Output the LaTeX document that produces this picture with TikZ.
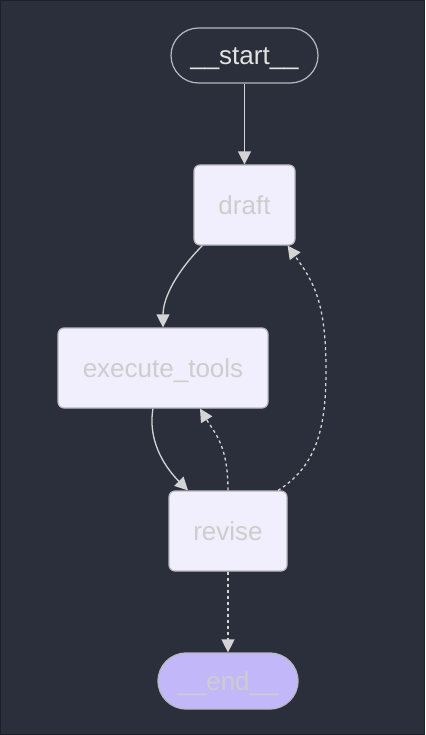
\documentclass[tikz,border=0pt]{standalone}
\usepackage{fontspec}
\setmainfont{Liberation Sans}
\usetikzlibrary{arrows.meta,shapes.misc}
\definecolor{bg}{HTML}{2A2F3B}
\definecolor{bgedge}{HTML}{1C2029}
\definecolor{nodefill}{HTML}{F1EFFD}
\definecolor{endfill}{HTML}{C2B8F9}
\definecolor{nodestroke}{HTML}{B8B8C0}
\definecolor{nodetext}{HTML}{CDCDCD}
\definecolor{starttext}{HTML}{E2E2E2}
\definecolor{edgecol}{HTML}{D4D4D4}
\tikzset{
  box/.style={draw=nodestroke, line width=1.2pt, fill=nodefill, rounded corners=6pt,
    text=nodetext, font=\fontsize{26}{30}\selectfont, inner sep=0pt, minimum height=80pt,
    text height=19pt, text depth=0pt},
  pill/.style={rounded rectangle, draw=nodestroke, line width=1.2pt,
    font=\fontsize{26}{30}\selectfont, inner sep=0pt, text height=19pt, text depth=0pt},
  edge/.style={draw=edgecol, line width=1.3pt, -{Triangle[length=13pt,width=13pt]}},
  dedge/.style={edge, dash pattern=on 3pt off 3pt},
}
\begin{document}
\begin{tikzpicture}[x=1pt,y=-1pt]
\fill[bg] (0,0) rectangle (425,735);
\draw[bgedge, line width=1pt] (0.5,0.5) rectangle (424.5,734.5);
\useasboundingbox (0,0) rectangle (425,735);

\node[pill, fill=bg, text=starttext, minimum width=147pt, minimum height=55pt] (start) at (244.5,55.5) {\_\_start\_\_};
\node[box, minimum width=101pt] (draft) at (244.5,205) {draft};
\node[box, minimum width=210pt] (exec) at (163,368) {execute\_tools};
\node[box, minimum width=118pt] (revise) at (228,531) {revise};
\node[pill, fill=endfill, text=nodetext, minimum width=140pt, minimum height=56pt] (end) at (228,681) {\_\_end\_\_};

\draw[edge] (start.south) -- (draft.north);
\draw[edge] (draft.south west) ++(9,0) .. controls +(-25,25) and +(0,-30) .. (exec.north);
\draw[edge] (exec.south) ++(-10,0) .. controls +(-6,35) and +(-20,-20) .. ([xshift=-40pt]revise.north);
\draw[dedge] (revise.north) .. controls +(0,-45) and +(15,25) .. ([xshift=37pt]exec.south);
\draw[dedge] ([xshift=50pt]revise.north) .. controls +(40,-25) and +(0,55) .. (326,370) .. controls +(0,-70) and +(25,35) .. ([xshift=-8pt]draft.south east);
\draw[dedge] (revise.south) -- (end.north);
\end{tikzpicture}
\end{document}
